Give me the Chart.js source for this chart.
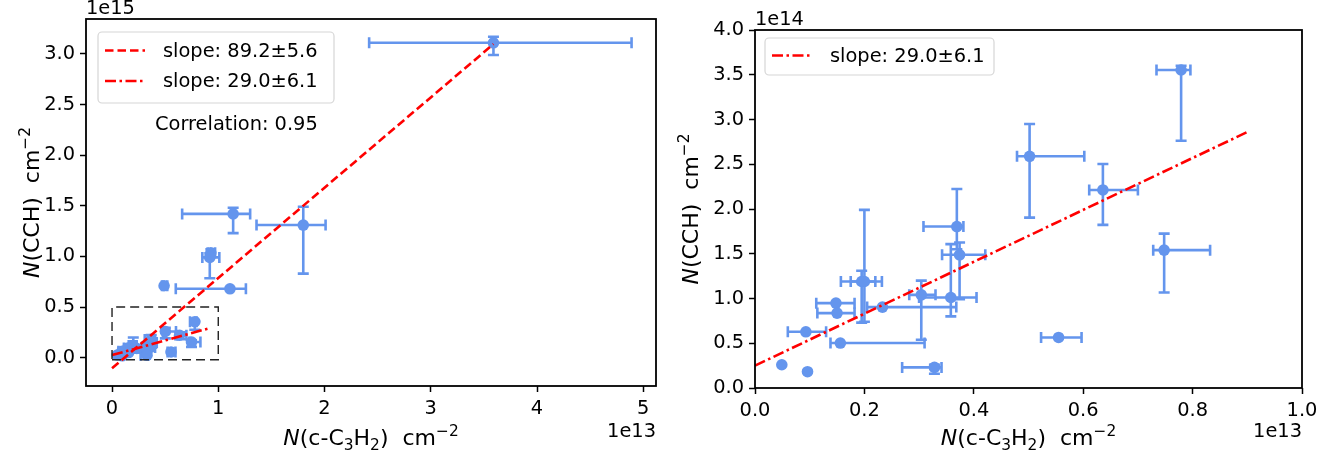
<!DOCTYPE html>
<html lang="en">
<head>
<meta charset="UTF-8">
<title>N(CCH) vs N(c-C3H2)</title>
<script src="https://cdn.jsdelivr.net/npm/chart.js@4.4.0/dist/chart.umd.min.js"></script>
<style>
  body { margin: 0; background: #fff; width: 1344px; height: 457px; overflow: hidden; position: relative; }
  .panel { position: absolute; top: 0; width: 672px; height: 457px; }
  #left { left: 0; }
  #right { left: 672px; }
</style>
</head>
<body>
<div class="panel" id="left"><canvas id="chartLeft"></canvas></div>
<div class="panel" id="right"><canvas id="chartRight"></canvas></div>
<script>
// N(c-C3H2) in units of 1e13 cm^-2, N(CCH) in units of 1e14 cm^-2
// sources inside the zoomed (right) panel
const lowX   = [0.779, 0.502, 0.636, 0.748, 0.555, 0.369, 0.374, 0.358, 0.304, 0.233, 0.195, 0.200, 0.148, 0.150, 0.093, 0.156, 0.049, 0.096, 0.328];
const lowXlo = [0.734, 0.479, 0.611, 0.728, 0.523, 0.308, 0.342, 0.300, 0.282, 0.205, 0.157, 0.175, 0.112, 0.114, 0.060, 0.138, null, null, 0.269];
const lowXhi = [0.796, 0.602, 0.700, 0.832, 0.597, 0.381, 0.421, 0.405, 0.330, 0.368, 0.220, 0.232, 0.182, 0.182, 0.130, 0.310, null, null, 0.341];
const lowY   = [3.553, 2.589, 2.213, 1.540, 0.565, 1.804, 1.488, 1.011, 1.041, 0.904, 1.190, 1.190, 0.948, 0.837, 0.628, 0.502, 0.260, 0.182, 0.230];
const lowYlo = [2.763, 1.904, 1.823, 1.067, null, 1.550, 0.993, 0.800, 0.539, null, 0.730, 0.740, null, null, null, null, null, null, 0.160];
const lowYhi = [3.600, 2.950, 2.503, 1.725, null, 2.224, 1.625, 1.607, 1.200, null, 1.310, 1.990, null, null, null, null, null, null, 0.260];

// brighter sources, only on the full-range (left) panel
const highX   = [3.59, 1.14, 1.80, 0.93, 0.92, 0.49, 1.11];
const highXlo = [2.42, 0.66, 1.36, 0.90, 0.85, 0.47, 0.60];
const highXhi = [4.89, 1.30, 2.01, 0.97, 1.01, 0.52, 1.26];
const highY   = [31.1, 14.2, 13.1, 10.35, 9.9, 7.1, 6.8];
const highYlo = [29.9, 12.3, 8.3, 10.0, 7.85, null, null];
const highYhi = [31.7, 14.8, 14.9, 10.7, 10.3, null, null];

// fitted lines (end points)
const fitAllX = [0, 3.59];
const fitAllY = [-1.05, 30.97];
const fitLowX = [0, 0.90];
const fitLowY = [0.25, 2.86];

// zoom-region box drawn on the left panel
const boxX = [0, 1.0, 1.0, 0, 0];
const boxY = [-0.2, -0.2, 5.0, 5.0, -0.2];

const leftXTicks = [0, 1, 2, 3, 4, 5];
const leftYTicks = [0, 0.5, 1.0, 1.5, 2.0, 2.5, 3.0];
const rightXTicks = [0, 0.2, 0.4, 0.6, 0.8, 1.0];
const rightYTicks = [0, 0.5, 1.0, 1.5, 2.0, 2.5, 3.0, 3.5, 4.0];

const FONT = '"DejaVu Sans", sans-serif';
const BLUE = '#6495ED';

function points(xs, xlo, xhi, ys, ylo, yhi, scale) {
  return xs.map((x, i) => ({
    x: x, y: ys[i] * scale,
    xlo: xlo[i], xhi: xhi[i],
    ylo: ylo[i] == null ? null : ylo[i] * scale,
    yhi: yhi[i] == null ? null : yhi[i] * scale
  }));
}

function line(xs, ys, scale) {
  return xs.map((x, i) => ({ x: x, y: ys[i] * scale }));
}

function drawRich(ctx, parts, x, y, size, rotate) {
  ctx.save();
  ctx.translate(x, y);
  if (rotate) ctx.rotate(-Math.PI / 2);
  const fontOf = p => (p.it ? 'italic ' : '') + (p.sub || p.sup ? size * 0.7 : size) + 'px ' + FONT;
  let total = 0;
  parts.forEach(p => { ctx.font = fontOf(p); p.w = ctx.measureText(p.t).width; total += p.w; });
  let cx = -total / 2;
  ctx.fillStyle = '#000';
  ctx.textBaseline = 'alphabetic';
  ctx.textAlign = 'left';
  parts.forEach(p => {
    ctx.font = fontOf(p);
    const dy = p.sub ? size * 0.22 : p.sup ? -size * 0.42 : 0;
    ctx.fillText(p.t, cx, dy + size * 0.36);
    cx += p.w;
  });
  ctx.restore();
}

const yLabel = [{ t: 'N', it: 1 }, { t: '(CCH)  cm' }, { t: '\u22122', sup: 1 }];
const xLabel = [{ t: 'N', it: 1 }, { t: '(c-C' }, { t: '3', sub: 1 }, { t: 'H' }, { t: '2', sub: 1 }, { t: ')  cm' }, { t: '\u22122', sup: 1 }];

const decor = {
  id: 'decor',
  beforeDatasetsDraw(chart, args, opts) {
    // error bars under the markers
    const ctx = chart.ctx, xs = chart.scales.x, ys = chart.scales.y;
    const cap = 5.5;
    ctx.save();
    ctx.strokeStyle = BLUE;
    ctx.lineWidth = 2.6;
    chart.data.datasets.forEach(ds => {
      if (!ds.errorBars) return;
      ds.data.forEach(p => {
        const px = xs.getPixelForValue(p.x), py = ys.getPixelForValue(p.y);
        ctx.beginPath();
        if (p.xlo != null) {
          const a = xs.getPixelForValue(p.xlo), b = xs.getPixelForValue(p.xhi);
          ctx.moveTo(a, py); ctx.lineTo(b, py);
          ctx.moveTo(a, py - cap); ctx.lineTo(a, py + cap);
          ctx.moveTo(b, py - cap); ctx.lineTo(b, py + cap);
        }
        if (p.ylo != null) {
          const a = ys.getPixelForValue(p.ylo), b = ys.getPixelForValue(p.yhi);
          ctx.moveTo(px, a); ctx.lineTo(px, b);
          ctx.moveTo(px - cap, a); ctx.lineTo(px + cap, a);
          ctx.moveTo(px - cap, b); ctx.lineTo(px + cap, b);
        }
        ctx.stroke();
      });
    });
    ctx.restore();
  },
  afterDraw(chart, args, opts) {
    const ctx = chart.ctx, ca = chart.chartArea;
    ctx.save();
    // frame
    ctx.strokeStyle = '#000';
    ctx.lineWidth = 1.8;
    ctx.strokeRect(ca.left, ca.top, ca.right - ca.left, ca.bottom - ca.top);

    // legend
    const lg = opts.legend;
    ctx.beginPath();
    ctx.roundRect(ca.left + lg.x, ca.top + lg.y, lg.w, lg.h, 4);
    ctx.fillStyle = 'rgba(255,255,255,0.85)';
    ctx.fill();
    ctx.strokeStyle = '#d6d6d6';
    ctx.lineWidth = 1.2;
    ctx.stroke();
    lg.items.forEach((it, i) => {
      const ry = ca.top + lg.y + lg.row0 + i * lg.rowGap;
      ctx.beginPath();
      ctx.strokeStyle = 'red';
      ctx.lineWidth = 2.6;
      ctx.setLineDash(it.dash);
      ctx.moveTo(ca.left + lg.x + 7, ry);
      ctx.lineTo(ca.left + lg.x + 47, ry);
      ctx.stroke();
      ctx.setLineDash([]);
      ctx.fillStyle = '#000';
      ctx.font = '19.4px ' + FONT;
      ctx.textBaseline = 'middle';
      ctx.textAlign = 'left';
      ctx.fillText(it.text, ca.left + lg.x + 65, ry + 1);
    });

    ctx.fillStyle = '#000';
    ctx.font = '19.4px ' + FONT;
    if (opts.note) {
      ctx.textBaseline = 'middle';
      ctx.textAlign = 'left';
      ctx.fillText(opts.note.text, ca.left + opts.note.x, ca.top + opts.note.y);
    }
    // offset texts
    ctx.textBaseline = 'alphabetic';
    ctx.textAlign = 'left';
    ctx.fillText(opts.offsetY, ca.left, ca.top - opts.offsetYGap);
    ctx.textAlign = 'right';
    ctx.fillText('1e13', ca.right, 437);

    drawRich(ctx, xLabel, (ca.left + ca.right) / 2, 437, 22, false);
    drawRich(ctx, yLabel, opts.yLabelX, (ca.top + ca.bottom) / 2, 22, true);
    ctx.restore();
  }
};

function axis(min, max, values, digits, fit) {
  return {
    type: 'linear', min: min, max: max,
    afterBuildTicks: s => { s.ticks = values.map(v => ({ value: v })); },
    afterFit: fit,
    grid: { drawOnChartArea: false, tickLength: 6, tickWidth: 1.5, tickColor: '#000' },
    border: { display: false },
    ticks: {
      color: '#000', autoSkip: false, maxRotation: 0, padding: 5,
      font: { family: 'DejaVu Sans', size: 19.4 },
      callback: v => v.toFixed(digits)
    }
  };
}

function makeChart(id, cfg) {
  return new Chart(document.getElementById(id), {
    type: 'scatter',
    data: { datasets: cfg.datasets },
    options: {
      responsive: true, maintainAspectRatio: false, animation: false,
      layout: { padding: cfg.padding },
      plugins: { legend: { display: false }, tooltip: { enabled: false }, decor: cfg.decor },
      scales: {
        x: axis(cfg.xMin, cfg.xMax, cfg.xTicks, cfg.xDigits, s => { s.height = cfg.xH; }),
        y: axis(cfg.yMin, cfg.yMax, cfg.yTicks, 1, s => { s.width = cfg.yW; })
      }
    },
    plugins: [decor]
  });
}

const markerStyle = { pointRadius: 5.8, pointHoverRadius: 5.8, backgroundColor: BLUE, borderWidth: 0, errorBars: true, order: 3 };
const lineStyle = { showLine: true, pointRadius: 0, borderColor: 'red', borderWidth: 2.6, fill: false };

makeChart('chartLeft', {
  padding: { top: 19, right: 16, left: 0, bottom: 0 },
  xMin: -0.245, xMax: 5.12, xTicks: leftXTicks, xDigits: 0, xH: 71,
  yMin: -0.28, yMax: 3.345, yTicks: leftYTicks, yW: 86,
  datasets: [
    Object.assign({ data: points(lowX, lowXlo, lowXhi, lowY, lowYlo, lowYhi, 0.1) }, markerStyle),
    Object.assign({ data: points(highX, highXlo, highXhi, highY, highYlo, highYhi, 0.1) }, markerStyle),
    Object.assign({ data: line(fitAllX, fitAllY, 0.1), borderDash: [8.5, 4], order: 1 }, lineStyle),
    Object.assign({ data: line(fitLowX, fitLowY, 0.1), borderDash: [11, 3.5, 2.5, 3.5], order: 1 }, lineStyle),
    { data: line(boxX, boxY, 0.1), showLine: true, pointRadius: 0, borderColor: '#222', borderWidth: 1.4, borderDash: [9, 5], order: 0 }
  ],
  decor: {
    offsetY: '1e15', offsetYGap: 5, yLabelX: 31,
    note: { text: 'Correlation: 0.95', x: 69, y: 106 },
    legend: {
      x: 12, y: 13, w: 236, h: 71, row0: 18.5, rowGap: 30.5,
      items: [
        { text: 'slope: 89.2\u00b15.6', dash: [8.5, 4] },
        { text: 'slope: 29.0\u00b16.1', dash: [11, 3.5, 2.5, 3.5] }
      ]
    }
  }
});

makeChart('chartRight', {
  padding: { top: 30, right: 42, left: 0, bottom: 0 },
  xMin: 0, xMax: 1.0, xTicks: rightXTicks, xDigits: 1, xH: 69,
  yMin: 0, yMax: 4.0, yTicks: rightYTicks, yW: 83,
  datasets: [
    Object.assign({ data: points(lowX, lowXlo, lowXhi, lowY, lowYlo, lowYhi, 1) }, markerStyle),
    Object.assign({ data: line(fitLowX, fitLowY, 1), borderDash: [11, 3.5, 2.5, 3.5], order: 1 }, lineStyle)
  ],
  decor: {
    offsetY: '1e14', offsetYGap: 5, yLabelX: 18,
    legend: {
      x: 10, y: 8, w: 229, h: 37, row0: 17.5, rowGap: 30.5,
      items: [
        { text: 'slope: 29.0\u00b16.1', dash: [11, 3.5, 2.5, 3.5] }
      ]
    }
  }
});
</script>
</body>
</html>
